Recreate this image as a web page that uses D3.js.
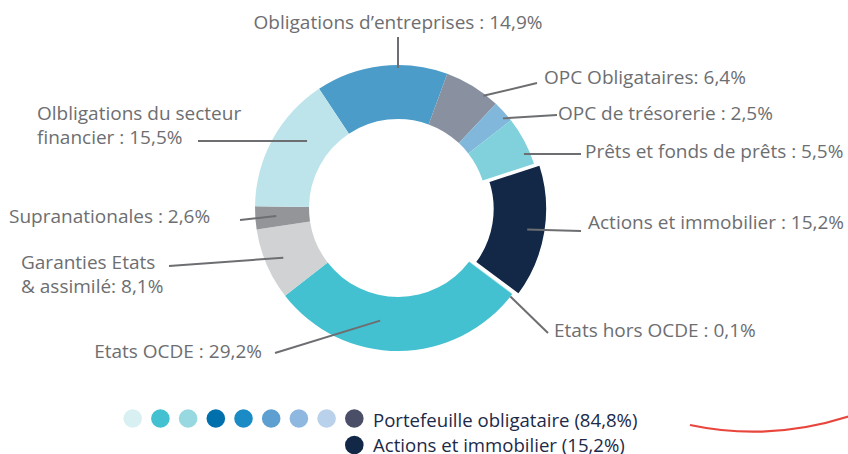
<!DOCTYPE html>
<html>
<head>
<meta charset="utf-8">
<script src="https://cdn.jsdelivr.net/npm/d3@7"></script>
<style>
  body { margin: 0; background: #fff; }
  text { font-family: "Open Sans", sans-serif; }
</style>
</head>
<body>
<script>
// data (clockwise, starting from the top-left edge of "Obligations d'entreprises")
var categories = ["Obligations d\u2019entreprises", "OPC Obligataires", "OPC de tr\u00e9sorerie",
  "Pr\u00eats et fonds de pr\u00eats", "Actions et immobilier", "Etats hors OCDE", "Etats OCDE",
  "Garanties Etats & assimil\u00e9", "Supranationales", "Olbligations du secteur financier"];
var shares = [14.9, 6.4, 2.5, 5.5, 15.2, 0.1, 29.2, 8.1, 2.6, 15.5];
var sliceColors = ["#4b9cc9", "#8991a1", "#80b7da", "#80d1dc", "#132846", "#c3e7ee",
  "#43c1d0", "#d1d2d4", "#949599", "#bde4eb"];

// label text as drawn (lines)
var labelLines = [
  ["Obligations d\u2019entreprises : 14,9%"],
  ["OPC Obligataires: 6,4%"],
  ["OPC de tr\u00e9sorerie : 2,5%"],
  ["Pr\u00eats et fonds de pr\u00eats : 5,5%"],
  ["Actions et immobilier : 15,2%"],
  ["Etats hors OCDE : 0,1%"],
  ["Etats OCDE : 29,2%"],
  ["Garanties Etats", "& assimil\u00e9: 8,1%"],
  ["Supranationales : 2,6%"],
  ["Olbligations du secteur", "financier : 15,5%"]
];

var legendColors = ["#d9f0f3", "#43c1d0", "#98d8e0", "#0070ad", "#1b8bc6", "#5c9fd0",
  "#8eb8df", "#b9d1ea", "#4a4f67"];
var legendItems = ["Portefeuille obligataire (84,8%)", "Actions et immobilier (15,2%)"];
var legendItemColors = ["#4a4f67", "#132846"];

// layout
var W = 848, H = 454, cx = 398, cy = 208, R = 143, r0 = 89;
var explodeIndex = 4, explodeBy = 6;
var deg = Math.PI / 180;

// leader lines: start (polar from centre), end point, text anchor
var labelLayout = [
  {a: 0,     rr: 140, ex: 398, ey: 37,  tx: 398, ty: 29,  anchor: "middle"},
  {a: 37.3,  rr: 141, ex: 537, ey: 83,  tx: 544, ty: 84,  anchor: "start"},
  {a: 49.5,  rr: 138, ex: 557, ey: 115, tx: 558, ty: 120, anchor: "start"},
  {a: 66.8,  rr: 137, ex: 581, ey: 154, tx: 585, ty: 158, anchor: "start"},
  {a: 99.5,  rr: 131, ex: 581, ey: 231, tx: 588, ty: 229, anchor: "start"},
  {a: 128.2, rr: 143, ex: 548, ey: 333, tx: 554, ty: 337, anchor: "start"},
  {a: 189,   rr: 114, ex: 275, ey: 353, tx: 262, ty: 358, anchor: "end"},
  {a: 246.6, rr: 125, ex: 169, ey: 266, tx: 21,  ty: 269, anchor: "start"},
  {a: 266.2, rr: 122, ex: 240, ey: 220, tx: 9,   ty: 223, anchor: "start"},
  {a: 306.4, rr: 113, ex: 198, ey: 141, tx: 37,  ty: 120, anchor: "start"}
];

var svg = d3.select("body").append("svg")
  .attr("width", W).attr("height", H);

var pie = d3.pie().sort(null).value(function(d){ return d; })
  .startAngle(-33.5 * deg).endAngle(326.5 * deg);
var arc = d3.arc().innerRadius(r0).outerRadius(R);

var g = svg.append("g").attr("transform", "translate(" + cx + "," + cy + ")");

g.selectAll("path.slice")
  .data(pie(shares))
  .enter().append("path")
    .attr("class", "slice")
    .attr("d", arc)
    .attr("fill", function(d, i){ return sliceColors[i]; })
    .attr("transform", function(d, i){
      if (i !== explodeIndex) return null;
      var m = (d.startAngle + d.endAngle) / 2;
      return "translate(" + (Math.sin(m) * explodeBy) + "," + (-Math.cos(m) * explodeBy) + ")";
    })
    .attr("stroke", function(d, i){ return i === explodeIndex ? "#fff" : "none"; })
    .attr("stroke-width", 1.5);

// leader lines
svg.selectAll("line.leader")
  .data(labelLayout)
  .enter().append("line")
    .attr("class", "leader")
    .attr("x1", function(d){ return cx + Math.sin(d.a * deg) * d.rr; })
    .attr("y1", function(d){ return cy - Math.cos(d.a * deg) * d.rr; })
    .attr("x2", function(d){ return d.ex; })
    .attr("y2", function(d){ return d.ey; })
    .attr("stroke", "#6d6e71")
    .attr("stroke-width", 2);

// labels
var labels = svg.selectAll("text.label")
  .data(labelLayout)
  .enter().append("text")
    .attr("class", "label")
    .attr("x", function(d){ return d.tx; })
    .attr("y", function(d){ return d.ty; })
    .attr("text-anchor", function(d){ return d.anchor; })
    .attr("fill", "#6d6e71")
    .attr("font-size", 19);

labels.each(function(d, i){
  var t = d3.select(this);
  labelLines[i].forEach(function(line, k){
    t.append("tspan")
      .attr("x", d.tx)
      .attr("dy", k === 0 ? 0 : 24)
      .text(line);
  });
});

// legend
var legX = 132.7, legStep = 27.7, legY = 418.5, legR = 9.3;
svg.selectAll("circle.leg")
  .data(legendColors)
  .enter().append("circle")
    .attr("class", "leg")
    .attr("cx", function(d, i){ return legX + i * legStep; })
    .attr("cy", legY)
    .attr("r", legR)
    .attr("fill", function(d){ return d; });

var lastX = legX + (legendColors.length - 1) * legStep;
svg.append("circle")
  .attr("cx", lastX).attr("cy", legY + 26.5).attr("r", legR)
  .attr("fill", legendItemColors[1]);

svg.selectAll("text.legtext")
  .data(legendItems)
  .enter().append("text")
    .attr("class", "legtext")
    .attr("x", 373)
    .attr("y", function(d, i){ return 426.5 + i * 25.5; })
    .attr("fill", "#1c2a48")
    .attr("font-size", 18.6)
    .text(function(d){ return d; });

// decorative red swoosh
svg.append("path")
  .attr("d", "M690,425 Q770,442 850,416")
  .attr("fill", "none")
  .attr("stroke", "#e8453c")
  .attr("stroke-width", 2.2);
</script>
</body>
</html>
